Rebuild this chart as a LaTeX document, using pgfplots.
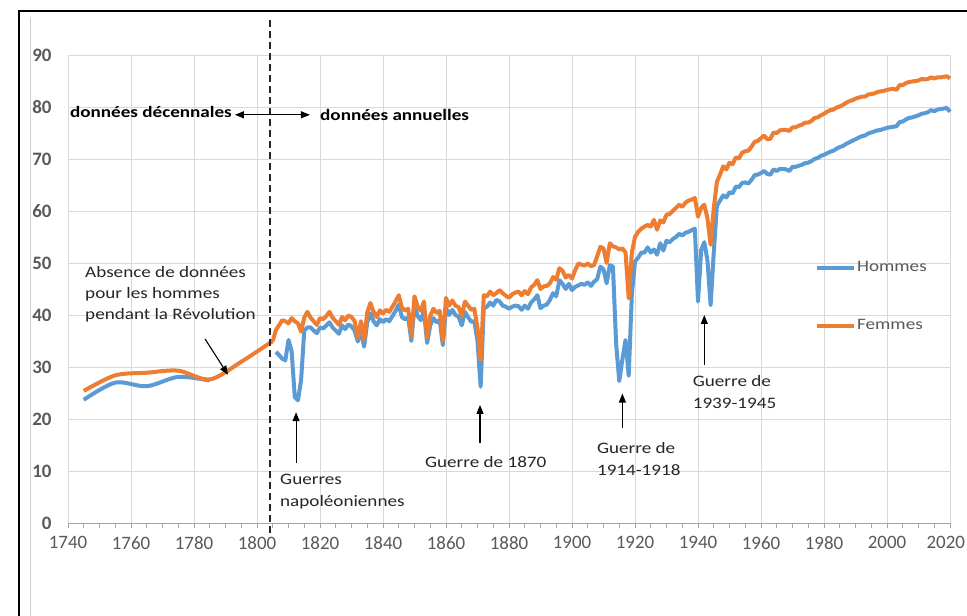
\documentclass[border=0pt]{standalone}
\usepackage{fontspec}
\setmainfont{Carlito}[FakeStretch=1.2]
\newfontfamily\tickfont{Carlito}
\usepackage{pgfplots}
\pgfplotsset{compat=1.18}
\usepackage{pgfplotstable}
\usetikzlibrary{arrows.meta}
\definecolor{hblue}{HTML}{5B9BD5}
\definecolor{forange}{HTML}{ED7D31}
\definecolor{gridc}{HTML}{D9D9D9}
\definecolor{lbl}{HTML}{595959}

\pgfplotstableread{
year F M
1805 35.0 nan
1806 37.1 32.9
1807 38.0 32.3
1808 39.0 31.6
1809 38.8 31.3
1810 38.4 35.2
1811 39.4 33.0
1812 38.8 24.2
1813 38.4 23.6
1814 36.8 27.5
1815 39.5 37.0
1816 40.6 37.6
1817 39.5 37.6
1818 38.8 37.0
1819 38.1 36.5
1820 39.4 37.6
1821 39.2 37.4
1822 39.8 38.0
1823 40.6 38.6
1824 39.5 37.6
1825 38.8 37.0
1826 38.1 36.4
1827 39.6 38.0
1828 39.0 37.3
1829 39.9 38.2
1830 39.6 37.8
1831 38.8 37.0
1832 35.6 34.9
1833 38.8 37.0
1834 35.2 33.9
1835 40.5 38.6
1836 42.3 40.3
1837 40.6 38.8
1838 39.6 38.0
1839 40.9 39.2
1840 40.3 38.6
1841 41.0 39.2
1842 40.6 38.8
1843 41.6 39.8
1844 42.6 40.8
1845 43.8 42.0
1846 41.4 39.6
1847 40.9 39.2
1848 41.2 39.5
1849 35.8 35.0
1850 43.6 41.8
1851 41.6 39.8
1852 40.8 39.0
1853 42.6 40.8
1854 35.6 34.6
1855 39.8 38.0
1856 41.2 39.4
1857 40.4 38.6
1858 40.8 39.0
1859 35.0 34.2
1860 43.3 41.4
1861 41.8 40.0
1862 42.8 41.0
1863 41.8 40.0
1864 41.5 39.7
1865 39.8 38.0
1866 42.6 40.6
1867 41.8 39.6
1868 41.0 38.7
1869 41.2 38.8
1870 37.5 35.0
1871 31.3 26.2
1872 43.8 41.3
1873 43.6 41.6
1874 44.5 42.4
1875 43.8 41.8
1876 44.2 42.9
1877 44.8 42.6
1878 44.2 41.8
1879 43.7 41.6
1880 43.3 41.2
1881 44.0 41.6
1882 44.3 41.8
1883 44.5 41.7
1884 43.8 41.0
1885 44.6 41.8
1886 44.0 41.2
1887 45.3 42.4
1888 45.8 43.0
1889 46.7 43.8
1890 45.0 41.3
1891 45.5 41.8
1892 45.6 42.0
1893 46.1 42.9
1894 47.3 44.2
1895 46.8 43.6
1896 49.0 46.7
1897 48.5 46.0
1898 47.2 45.0
1899 47.7 46.0
1900 47.0 44.8
1901 48.6 45.4
1902 49.9 45.7
1903 49.7 46.0
1904 49.5 45.8
1905 49.9 46.3
1906 49.4 45.6
1907 49.6 46.4
1908 51.3 46.9
1909 53.1 49.3
1910 52.8 48.8
1911 50.0 46.1
1912 53.8 49.6
1913 53.2 49.3
1914 53.0 34.5
1915 52.6 27.3
1916 52.8 31.5
1917 52.0 35.2
1918 43.2 28.3
1919 52.0 44.0
1920 55.0 50.3
1921 56.0 51.0
1922 56.6 52.0
1923 57.0 52.0
1924 57.3 53.0
1925 57.0 52.0
1926 58.3 52.6
1927 56.4 51.6
1928 58.2 53.8
1929 57.8 52.4
1930 59.3 54.3
1931 59.4 54.0
1932 60.0 54.6
1933 60.6 55.0
1934 61.2 55.6
1935 60.8 55.3
1936 61.6 55.8
1937 62.0 56.0
1938 62.2 56.3
1939 62.5 56.6
1940 58.9 42.6
1941 60.6 52.5
1942 61.2 54.0
1943 58.6 50.5
1944 53.5 41.9
1945 60.5 52.0
1946 65.6 61.0
1947 67.0 62.0
1948 68.6 63.0
1949 68.0 62.6
1950 69.3 63.6
1951 69.0 63.4
1952 70.3 64.7
1953 70.1 64.6
1954 71.2 65.4
1955 71.5 65.5
1956 71.6 65.3
1957 72.4 66.0
1958 73.3 66.9
1959 73.5 67.0
1960 74.0 67.3
1961 74.5 67.7
1962 73.8 67.1
1963 73.9 67.0
1964 75.1 68.0
1965 75.0 67.7
1966 75.5 68.1
1967 75.6 68.1
1968 75.6 68.0
1969 75.4 67.7
1970 76.1 68.5
1971 76.1 68.5
1972 76.4 68.7
1973 76.6 68.9
1974 77.0 69.2
1975 77.0 69.3
1976 77.3 69.6
1977 77.9 70.0
1978 78.0 70.2
1979 78.4 70.6
1980 78.7 70.8
1981 79.1 71.1
1982 79.4 71.4
1983 79.5 71.6
1984 79.9 72.0
1985 80.1 72.3
1986 80.4 72.5
1987 80.8 72.9
1988 81.1 73.2
1989 81.3 73.5
1990 81.6 73.8
1991 81.8 74.1
1992 82.0 74.4
1993 82.0 74.5
1994 82.4 74.9
1995 82.5 75.1
1996 82.6 75.3
1997 82.9 75.5
1998 83.0 75.6
1999 83.1 75.8
2000 83.3 76.0
2001 83.4 76.1
2002 83.5 76.2
2003 83.3 76.3
2004 84.2 77.1
2005 84.2 77.2
2006 84.6 77.6
2007 84.8 77.9
2008 84.9 78.0
2009 85.0 78.2
2010 85.1 78.4
2011 85.4 78.7
2012 85.3 78.8
2013 85.4 79.0
2014 85.7 79.4
2015 85.5 79.2
2016 85.7 79.5
2017 85.7 79.6
2018 85.8 79.7
2019 85.9 79.8
2020 85.5 79.1
}\annual

\begin{document}
\begin{tikzpicture}
\useasboundingbox (0,0) rectangle (967bp,616bp);
\fill[white] (0,0) rectangle (967bp,616bp);
\draw[black, line width=1.2bp] (19bp,0) -- (19bp,605bp) -- (967bp,605bp);
\draw[black!20, line width=0.8bp] (30bp,0) -- (30bp,598bp);
\begin{axis}[
  at={(68bp,93bp)}, anchor=south west, scale only axis,
  width=882bp, height=468bp,
  xmin=1740, xmax=2020, ymin=0, ymax=90,
  xtick={1740,1760,...,2020}, ytick={0,10,...,90},
  xticklabels={1740,1760,1780,1800,1820,1840,1860,1880,1900,1920,1940,1960,1980,2000,\makebox[30bp][r]{2020}},
  minor xtick={1745,1750,...,2015},
  grid=major, major grid style={draw=gridc, line width=0.9bp},
  axis x line*=bottom, axis y line*=left,
  x axis line style={draw=black!35, line width=0.9bp},
  y axis line style={draw=none},
  ytick style={draw=none},
  xtick style={draw=black!35, line width=0.8bp},
  minor tick style={draw=black!35, line width=0.8bp},
  tick align=outside, major tick length=5bp, minor tick length=5bp,
  xticklabel style={font=\tickfont\fontsize{19}{20}\selectfont, text=lbl, yshift=-5bp},
  yticklabel style={font=\tickfont\bfseries\fontsize{19}{20}\selectfont, text=lbl, xshift=-8bp},
  /pgf/number format/assume math mode=true,
  /pgf/number format/1000 sep={},
  clip=false,
  legend style={at={(0.8469,0.4833)}, anchor=west, draw=none, fill=none,
    font=\fontsize{16}{18}\selectfont, text=lbl, row sep=42bp, inner sep=0pt,
    nodes={inner sep=1bp, text height=11bp, text depth=3bp}},
  legend cell align=left,
  legend image code/.code={\draw[#1, line width=4bp] (0bp,0bp) -- (37bp,0bp);},
]
% Hommes, decennial
\addplot[hblue, line width=4bp, smooth, forget plot] coordinates {
 (1745,23.7) (1755,27.0) (1765,26.3) (1775,28.1) (1785,27.4)};
% Hommes, annual
\addplot[hblue, line width=4bp, line join=round] table[x=year, y=M] {\annual};
\addlegendentry{Hommes}
% Femmes, decennial
\addplot[forange, line width=4bp, smooth, forget plot] coordinates {
 (1745,25.4) (1755,28.4) (1765,28.9) (1775,29.3) (1785,27.6) (1795,31.0) (1805,35.0)};
% Femmes, annual
\addplot[forange, line width=4bp, line join=round] table[x=year, y=F] {\annual};
\addlegendentry{Femmes}

% dashed separator
\draw[dash pattern=on 7bp off 4bp, line width=1.2bp, black!85] (axis cs:1804.1,-2.0) -- (axis cs:1804.1,97.2);
% annotations
\node[anchor=base west, inner sep=0pt, font=\bfseries\fontsize{16}{20}\selectfont, text=black] at (axis cs:1740.6,77.9) {données décennales};
\node[anchor=base west, inner sep=0pt, font=\bfseries\fontsize{16}{20}\selectfont, text=black] at (axis cs:1820.0,77.4) {données annuelles};
\draw[{Triangle[length=9bp,width=7bp]}-{Triangle[length=9bp,width=7bp]}, line width=1.1bp] (axis cs:1793.0,78.5) -- (axis cs:1816.8,78.5);

\node[anchor=base west, inner sep=0pt, align=left, font=\fontsize{16}{21}\selectfont, text=black!85] at (axis cs:1745.4,39.2) {Absence de données\\pour les hommes\\pendant la Révolution};
\draw[-{Triangle[length=9bp,width=7bp]}, line width=1.1bp] (axis cs:1783.5,35.4) -- (axis cs:1790.8,28.5);

\node[anchor=base west, inner sep=0pt, align=left, font=\fontsize{16}{22}\selectfont, text=black!85] at (axis cs:1807.3,3.1) {Guerres\\napoléoniennes};
\draw[-{Triangle[length=9bp,width=7bp]}, line width=1.1bp] (axis cs:1812.4,11.5) -- (axis cs:1812.4,21.3);

\node[anchor=base west, inner sep=0pt, font=\fontsize{16}{21}\selectfont, text=black!85] at (axis cs:1853.3,10.6) {Guerre de 1870};
\draw[-{Triangle[length=9bp,width=7bp]}, line width=1.1bp] (axis cs:1870.8,15.4) -- (axis cs:1870.8,22.7);

\node[anchor=base west, inner sep=0pt, align=left, font=\fontsize{16}{22}\selectfont, text=black!85] at (axis cs:1907.9,9.2) {Guerre de\\1914-1918};
\draw[-{Triangle[length=9bp,width=7bp]}, line width=1.1bp] (axis cs:1916.0,18.3) -- (axis cs:1916.0,24.9);

\node[anchor=base west, inner sep=0pt, align=left, font=\fontsize{16}{22}\selectfont, text=black!85] at (axis cs:1938.3,22.1) {Guerre de\\1939-1945};
\draw[-{Triangle[length=9bp,width=7bp]}, line width=1.1bp] (axis cs:1942.0,30.4) -- (axis cs:1942.0,40.0);
\end{axis}
\end{tikzpicture}
\end{document}
